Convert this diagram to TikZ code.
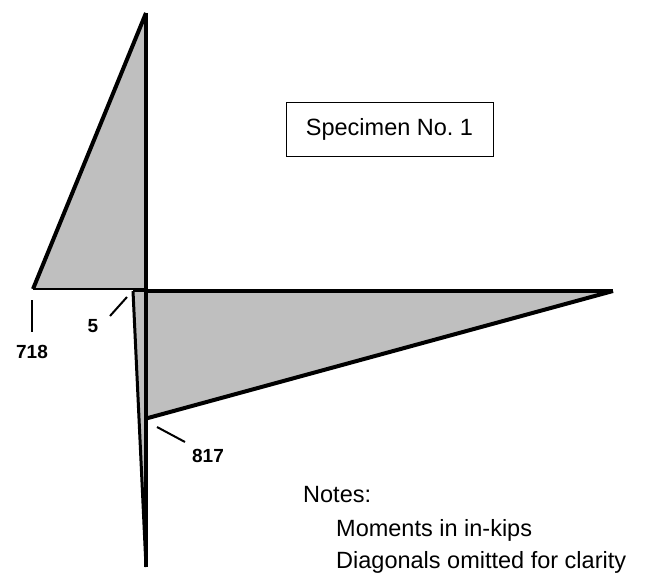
\documentclass[tikz,border=0pt]{standalone}
\usepackage{fontspec}
\setmainfont{Liberation Sans}
\usepackage{xcolor}
\usetikzlibrary{positioning}
\definecolor{ink}{HTML}{000000}
\colorlet{stip}{black!25}
\tikzset{
  val/.style={font=\fontsize{19}{22}\selectfont\bfseries, text=ink, inner sep=0pt},
  note/.style={font=\fontsize{23.5}{28}\selectfont, text=ink, inner sep=0pt, anchor=base west},
}

\begin{document}
\begin{tikzpicture}[x=1pt, y=-1pt,
  edge/.style={draw=ink, line width=4pt, line join=miter},
  base/.style={draw=ink, line width=2.4pt},
  tick/.style={draw=ink, line width=2pt},
  title/.style={draw=ink, line width=1pt, minimum width=207pt, minimum height=53pt, font=\fontsize{23.5}{28}\selectfont, inner sep=0pt}]
\useasboundingbox (0,0) rectangle (647,575);
% diagram points
\coordinate (top) at (146,13); \coordinate (bot) at (146,567);
\coordinate (lft) at (33,289); \coordinate (jnt) at (146,289);
\coordinate (bjt) at (146,291); \coordinate (tip) at (613,291); \coordinate (low) at (148,418);
\coordinate (ctp) at (133,291);
% moment areas
\fill[stip] (lft) -- (top) -- (jnt) -- cycle;
\fill[stip] (bjt) -- (tip) -- (low) -- cycle;
\fill[stip] (ctp) -- (bjt) -- (bot) -- cycle;
\draw[base] (lft) -- (jnt);
\draw[edge] (lft) -- (top);
\draw[draw=ink, line width=3.2pt] (bjt) -- (tip);
\draw[edge] (tip) -- (low) -- (146,418);
\draw[draw=ink, line width=3pt] (ctp) -- (bot);
\draw[base] (ctp) -- (bjt);
\draw[draw=ink, line width=3.2pt] (top) -- (bot);
% values
\node[val] (v718) at (32,352) {718};
\node[val] (v5) at (93,326) {5};
\node[val] (v817) at (208,456) {817};
\coordinate (a718) at (32,300); \coordinate (b718) at (32,332);
\coordinate (a5) at (127,297); \coordinate (b5) at (110,316);
\coordinate (a817) at (157,427); \coordinate (b817) at (185,442);
\draw[tick] (a718) -- (b718);
\draw[tick] (a5) -- (b5);
\draw[tick] (a817) -- (b817);
% title and notes
\node[title] (spec) at (389.5,129.5) {Specimen No.~1};
\node[note] (notes) at (303,502) {Notes:};
\node[note] (n1) at (336,536) {Moments in in-kips};
\node[note] (n2) at (336,568) {Diagonals omitted for clarity};
\end{tikzpicture}
\end{document}
